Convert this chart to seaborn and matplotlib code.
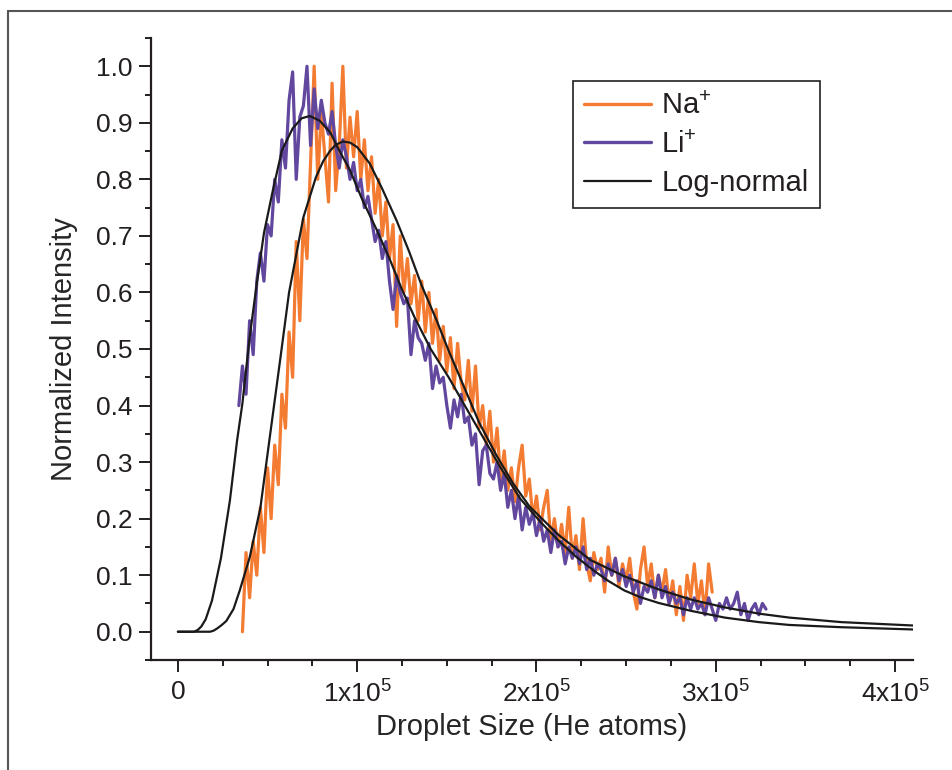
import numpy as np
import pandas as pd
import matplotlib
matplotlib.use("Agg")
import matplotlib.pyplot as plt
import seaborn as sns
from matplotlib.lines import Line2D
from matplotlib.ticker import MultipleLocator

# ---------------- data ----------------
na_x_start, li_x_start, x_step = 36000, 34000, 2000

na_y = [
    0.00, 0.14, 0.06, 0.16, 0.10, 0.22, 0.14, 0.29, 0.20, 0.33,
    0.26, 0.42, 0.36, 0.53, 0.45, 0.69, 0.55, 0.73, 0.66, 0.83,
    1.00, 0.80, 0.92, 0.84, 0.76, 0.97, 0.78, 0.86, 1.00, 0.82,
    0.91, 0.84, 0.92, 0.80, 0.87, 0.78, 0.84, 0.74, 0.80, 0.70,
    0.76, 0.66, 0.72, 0.54, 0.70, 0.60, 0.66, 0.58, 0.63, 0.55,
    0.62, 0.53, 0.60, 0.51, 0.57, 0.48, 0.54, 0.46, 0.52, 0.43,
    0.51, 0.44, 0.41, 0.48, 0.39, 0.47, 0.36, 0.40, 0.33, 0.39,
    0.30, 0.36, 0.27, 0.32, 0.25, 0.29, 0.23, 0.29, 0.33, 0.24,
    0.27, 0.20, 0.24, 0.18, 0.22, 0.25, 0.16, 0.20, 0.15, 0.19,
    0.14, 0.22, 0.13, 0.17, 0.11, 0.20, 0.12, 0.09, 0.14, 0.11,
    0.13, 0.07, 0.15, 0.10, 0.13, 0.08, 0.12, 0.09, 0.13, 0.07,
    0.04, 0.11, 0.15, 0.08, 0.12, 0.06, 0.10, 0.07, 0.11, 0.05,
    0.09, 0.03, 0.08, 0.02, 0.10, 0.06, 0.12, 0.05, 0.09, 0.03,
    0.12, 0.07,
]

li_y = [
    0.40, 0.47, 0.42, 0.55, 0.49, 0.62, 0.67, 0.62, 0.72, 0.70,
    0.80, 0.76, 0.87, 0.82, 0.94, 0.99, 0.80, 0.91, 0.93, 1.00,
    0.86, 0.96, 0.89, 0.94, 0.90, 0.88, 0.92, 0.86, 0.82, 0.87,
    0.84, 0.80, 0.83, 0.78, 0.80, 0.75, 0.77, 0.73, 0.69, 0.71,
    0.66, 0.69, 0.62, 0.57, 0.63, 0.60, 0.58, 0.59, 0.49, 0.55,
    0.52, 0.51, 0.48, 0.51, 0.43, 0.47, 0.44, 0.45, 0.40, 0.36,
    0.41, 0.38, 0.42, 0.37, 0.38, 0.33, 0.35, 0.26, 0.32, 0.33,
    0.28, 0.27, 0.30, 0.25, 0.28, 0.22, 0.25, 0.20, 0.24, 0.18,
    0.22, 0.19, 0.21, 0.17, 0.20, 0.16, 0.18, 0.14, 0.18, 0.15,
    0.16, 0.12, 0.15, 0.13, 0.15, 0.12, 0.15, 0.11, 0.13, 0.10,
    0.12, 0.11, 0.09, 0.12, 0.10, 0.13, 0.09, 0.11, 0.08, 0.10,
    0.07, 0.09, 0.05, 0.08, 0.07, 0.09, 0.06, 0.10, 0.06, 0.08,
    0.05, 0.07, 0.05, 0.06, 0.03, 0.06, 0.04, 0.06, 0.04, 0.05,
    0.03, 0.06, 0.04, 0.02, 0.05, 0.04, 0.06, 0.04, 0.05, 0.07,
    0.03, 0.05, 0.02, 0.04, 0.05, 0.03, 0.05, 0.04,
]

fit_li_x = [0, 9, 11, 13, 15.5, 19, 24, 29, 33, 36, 40, 44, 48, 53, 58, 64,
            69, 73.5, 79, 85, 90, 96, 103, 111, 118, 125, 132, 141, 151, 160,
            170, 180, 191, 202, 212, 222, 232, 240, 249, 258, 268, 286, 305,
            324, 341, 370, 410]
fit_li_y = [0, 0, 0.003, 0.009, 0.022, 0.055, 0.13, 0.232, 0.338, 0.404,
            0.52, 0.616, 0.705, 0.781, 0.851, 0.89, 0.908, 0.912, 0.904,
            0.883, 0.851, 0.816, 0.763, 0.71, 0.66, 0.605, 0.556, 0.50, 0.45,
            0.40, 0.345, 0.29, 0.235, 0.195, 0.162, 0.133, 0.108, 0.090,
            0.073, 0.061, 0.051, 0.037, 0.025, 0.017, 0.012, 0.008, 0.004]

fit_na_x = [0, 18, 20, 22, 24.5, 27, 31, 34.5, 40, 46, 51, 57, 62, 70, 77,
            81, 85, 88, 92, 96, 100, 107, 114, 122, 129, 136, 144, 151, 160,
            168, 178, 187, 196, 212, 230, 249, 268, 286, 305, 324, 341, 370,
            410]
fit_na_y = [0, 0, 0.002, 0.006, 0.012, 0.019, 0.04, 0.073, 0.131, 0.219,
            0.338, 0.48, 0.60, 0.733, 0.804, 0.832, 0.851, 0.861, 0.867,
            0.865, 0.857, 0.828, 0.783, 0.727, 0.672, 0.612, 0.553, 0.497,
            0.43, 0.37, 0.31, 0.262, 0.222, 0.172, 0.127, 0.098, 0.075,
            0.057, 0.043, 0.032, 0.025, 0.017, 0.011]

x_ticks = [0, 100000, 200000, 300000, 400000]
x_tick_labels = ["0", "1x10$^{5}$", "2x10$^{5}$", "3x10$^{5}$", "4x10$^{5}$"]
y_ticks = [0.0, 0.1, 0.2, 0.3, 0.4, 0.5, 0.6, 0.7, 0.8, 0.9, 1.0]
series_labels = ["Na$^{+}$", "Li$^{+}$", "Log-normal"]

# ---------------- tables ----------------
na_df = pd.DataFrame({"x": na_x_start + x_step * np.arange(len(na_y)), "y": na_y})
li_df = pd.DataFrame({"x": li_x_start + x_step * np.arange(len(li_y)), "y": li_y})
fit_li_df = pd.DataFrame({"x": np.array(fit_li_x) * 1000, "y": fit_li_y})
fit_na_df = pd.DataFrame({"x": np.array(fit_na_x) * 1000, "y": fit_na_y})

# ---------------- style ----------------
sns.set_style("ticks")
plt.rcParams["font.family"] = ["Liberation Sans", "DejaVu Sans"]
plt.rcParams["mathtext.fontset"] = "custom"
plt.rcParams["mathtext.rm"] = "Liberation Sans"
plt.rcParams["mathtext.it"] = "Liberation Sans:italic"
plt.rcParams["mathtext.bf"] = "Liberation Sans:bold"
plt.rcParams["text.color"] = "#231f20"

W, H = 952, 770
fig = plt.figure(figsize=(W / 100, H / 100), dpi=100)
ax = fig.add_axes([151 / W, 1 - 660 / H, 762 / W, 622 / H])

orange = "#F37B32"
purple = "#62479E"
black = "#1a1a1a"

sns.lineplot(data=na_df, x="x", y="y", ax=ax, color=orange, lw=2.3,
             sort=False, estimator=None, label=series_labels[0])
sns.lineplot(data=li_df, x="x", y="y", ax=ax, color=purple, lw=2.3,
             sort=False, estimator=None, label=series_labels[1])
sns.lineplot(data=fit_li_df, x="x", y="y", ax=ax, color=black, lw=1.6,
             sort=False, estimator=None, label=series_labels[2])
sns.lineplot(data=fit_na_df, x="x", y="y", ax=ax, color=black, lw=1.6,
             sort=False, estimator=None, label="_nolegend_")

ax.set_xlim(-15000, 410000)
ax.set_ylim(-0.05, 1.05)
ax.set_xticks(x_ticks)
ax.set_xticklabels(x_tick_labels)
ax.set_yticks(y_ticks)
ax.set_yticklabels([f"{v:.1f}" for v in y_ticks])
ax.xaxis.set_minor_locator(MultipleLocator(25000))
ax.yaxis.set_minor_locator(MultipleLocator(0.05))

for s in ["top", "right"]:
    ax.spines[s].set_visible(False)
for s in ["left", "bottom"]:
    ax.spines[s].set_linewidth(1.6)
    ax.spines[s].set_color("#231f20")

ax.tick_params(which="major", direction="out", length=8.5, width=1.4,
               color="#231f20", labelsize=19, labelcolor="#231f20")
ax.tick_params(axis="y", which="major", pad=5)
ax.tick_params(axis="x", which="major", pad=6)
ax.tick_params(which="minor", direction="out", length=4.5, width=1.4,
               color="#231f20")

ax.set_xlabel("Droplet Size (He atoms)", fontsize=21, labelpad=4)
ax.set_ylabel("Normalized Intensity", fontsize=21, labelpad=13)

leg = ax.legend(loc="upper left", bbox_to_anchor=((573 - 151) / 762, 1 - (81 - 38) / 622),
                borderaxespad=0, frameon=True, fancybox=False, framealpha=1,
                edgecolor="#231f20", fontsize=21, handlelength=2.3,
                handletextpad=0.35, labelspacing=0.36, borderpad=0.38)
leg.get_frame().set_linewidth(1.2)
for h, w in zip(leg.legend_handles, [2.4, 2.4, 1.6]):
    h.set_linewidth(w)

# outer frame
fig.add_artist(Line2D([8 / W, 8 / W], [0, 1 - 11 / H], transform=fig.transFigure,
                      color="#555555", lw=1.5))
fig.add_artist(Line2D([8 / W, 1], [1 - 11 / H, 1 - 11 / H], transform=fig.transFigure,
                      color="#555555", lw=1.5))

fig.savefig("out.png", dpi=100)
